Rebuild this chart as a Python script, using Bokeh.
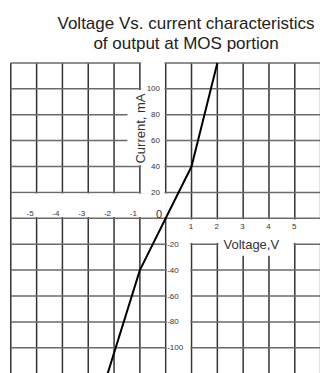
from bokeh.plotting import figure
from bokeh.models import Range1d
from bokeh.core.properties import value
from bokeh.embed import file_html
from bokeh.resources import INLINE

# ---------------- data ----------------
title_lines = ["Voltage Vs. current characteristics", "of output at MOS portion"]
x_label = "Voltage,V"
y_label = "Current, mA"
voltage = [-2.25, -1.0, 0.0, 1.0, 2.0]
current = [-120, -40, 0, 40, 120]
x_grid = [-6, -5, -4, -3, -2, -1, 0, 1, 2, 3, 4, 5, 6]
y_grid = [-120, -100, -80, -60, -40, -20, 0, 20, 40, 60, 80, 100, 120]
x_ticks_neg = [-5, -4, -3, -2, -1]
x_ticks_pos = [1, 2, 3, 4, 5]
y_ticks_pos = [20, 40, 60, 80, 100]
y_ticks_neg = [-20, -40, -60, -80, -100]

# ---------------- geometry (screen scale) ----------------
W, H = 320, 373
PXV = 25.82          # px per volt
PXI = 25.9 / 20.0    # px per mA
X0, Y0 = 165.2, 217.8   # origin in figure pixels

def hx(px):  # horizontal pixel distance -> volts
    return px / PXV

def vy(px):  # vertical pixel distance -> mA
    return px / PXI

p = figure(width=W, height=H, output_backend="svg", toolbar_location=None,
           x_range=Range1d(-X0 / PXV, (W - X0) / PXV),
           y_range=Range1d(-(H - Y0) / PXI, Y0 / PXI),
           min_border=0, min_border_left=0, min_border_right=0,
           min_border_top=0, min_border_bottom=0)
p.axis.visible = False
p.xgrid.visible = False
p.ygrid.visible = False
p.outline_line_color = None
p.background_fill_color = "white"
p.border_fill_color = "white"

# grid
gx0, gx1 = x_grid[0], x_grid[-1]
gy0, gy1 = y_grid[0], y_grid[-1]
p.segment(x0=x_grid, y0=[gy0] * len(x_grid), x1=x_grid, y1=[gy1] * len(x_grid),
          line_color="#333333", line_width=1.5)
p.segment(x0=[gx0] * len(y_grid), y0=y_grid, x1=[gx1] * len(y_grid), y1=y_grid,
          line_color="#6a6a6a", line_width=1.5)

# white label areas cut out of the grid
dx, dy = hx(1.2), vy(1.2)
masks = [
    (-1 + dx, -dx, 20 - dy, gy1 + vy(3)),          # y-label column
    (hx(127 - 165.2), -dx, 40 + dy, 100 - dy),      # "Current, mA" box
    (gx0 + dx, dx, dy, 20 - dy),                    # negative x tick row
    (dx, 1 - dx, gy0 - vy(3), -dy),                 # negative y-label column
    (dx, gx1 + 1, -20 + dy, -dy),                   # positive x tick row
    (2 + dx, 5 - dx, -29, -dy),                     # "Voltage,V" box
]
p.quad(left=[m[0] for m in masks], right=[m[1] for m in masks],
       bottom=[m[2] for m in masks], top=[m[3] for m in masks],
       fill_color="white", line_color=None)

# curve
p.line(voltage, current, line_color="black", line_width=2)

font = value("Liberation Sans")
lab_col = "#333333"

# y tick labels
p.text(x=[hx(159.5 - 165.2)] * len(y_ticks_pos), y=y_ticks_pos,
       text=[str(v) for v in y_ticks_pos], text_font=font, text_font_size="8px",
       text_align="right", text_baseline="middle", text_color=lab_col)
p.text(x=[hx(166.7 - 165.2)] * len(y_ticks_neg), y=y_ticks_neg,
       text=[str(v) for v in y_ticks_neg], text_font=font, text_font_size="8px",
       text_align="left", text_baseline="middle", text_color=lab_col)
# x tick labels
p.text(x=[v - hx(3) for v in x_ticks_neg], y=[vy(4.6)] * len(x_ticks_neg),
       text=[str(v) for v in x_ticks_neg], text_font=font, text_font_size="8px",
       text_align="right", text_baseline="alphabetic", text_color=lab_col)
p.text(x=[v - hx(0.6) for v in x_ticks_pos], y=[-vy(8.4)] * len(x_ticks_pos),
       text=[str(v) for v in x_ticks_pos], text_font=font, text_font_size="8px",
       text_align="center", text_baseline="alphabetic", text_color=lab_col)
p.text(x=[-hx(3.5)], y=[vy(4.5)], text=["0"], text_font=font, text_font_size="11px",
       text_align="right", text_baseline="alphabetic", text_color=lab_col)

# axis titles
p.text(x=[hx(250.8 - 165.2)], y=[-vy(243.7 - 217.8)], text=[x_label], text_font=font,
       text_font_size="13px", text_align="center", text_baseline="middle",
       text_color=lab_col)
p.text(x=[hx(139.5 - 165.2)], y=[vy(217.8 - 128)], text=[y_label], text_font=font,
       text_font_size="13px", text_align="center", text_baseline="middle",
       angle=1.5707963, text_color=lab_col)

# chart title
p.text(x=[hx(185.5 - 165.2)] * 2, y=[vy(217.8 - 23.3), vy(217.8 - 42.7)],
       text=title_lines, text_font=font, text_font_size="17px",
       text_align="center", text_baseline="alphabetic", text_color="#222222")

open("out.html", "w").write(file_html(p, INLINE))
